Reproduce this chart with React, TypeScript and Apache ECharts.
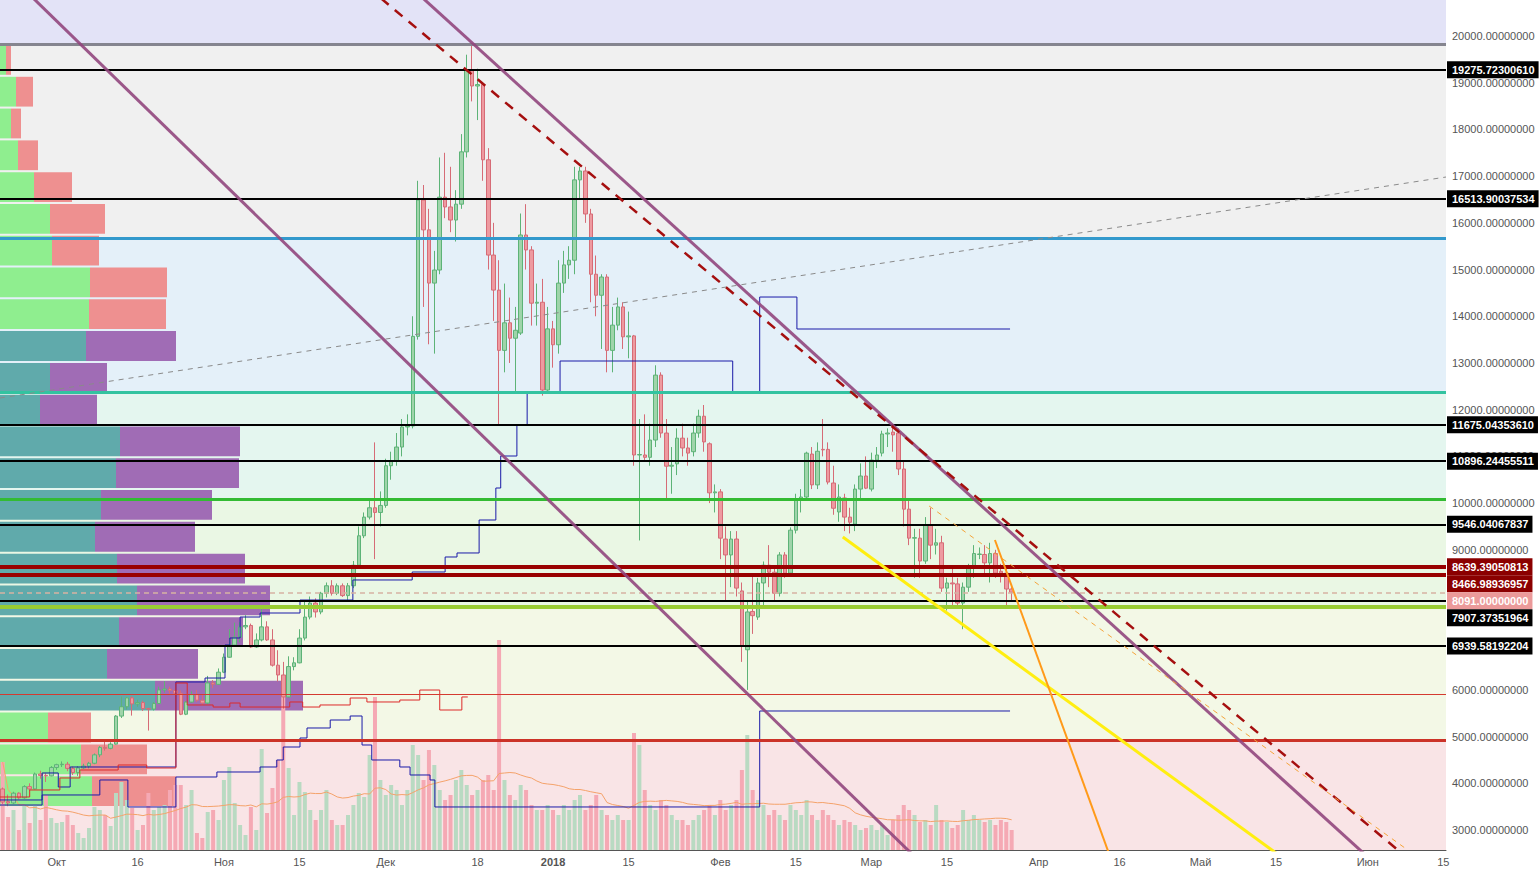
import React, { useEffect, useRef } from 'react';
import * as echarts from 'echarts';

// x values are days counted from 1 Oct 2017 (day 0)
const FIRST_DAY = -10;
const DAY_MIN = -10.5;
const DAY_MAX = 257.5;
const PRICE_MIN = 2573;
const PRICE_MAX = 20771;
const FONT = "'Liberation Sans', Arial, sans-serif";

const priceTicks = [3000, 4000, 5000, 6000, 7000, 8000, 9000, 10000, 11000, 12000, 13000, 14000, 15000, 16000, 17000, 18000, 19000, 20000];
// 7000 and 8000 sit under the price tags in the reference, so they carry no label
const priceTickLabels = [3000, 4000, 5000, 6000, 9000, 10000, 11000, 12000, 13000, 14000, 15000, 16000, 17000, 18000, 19000, 20000];
const dateTickDays = [0, 15, 31, 45, 61, 78, 92, 106, 123, 137, 151, 165, 182, 197, 212, 226, 243, 257];
const dateTickLabels = ['Окт', '16', 'Ноя', '15', 'Дек', '18', '2018', '15', 'Фев', '15', 'Мар', '15', 'Апр', '16', 'Май', '15', 'Июн', '15'];

// daily candles [open, close, low, high], from 21 Sep 2017
const candles = [
  [3880,3600,3560,3910],[3610,3580,3510,3760],[3580,3790,3560,3820],[3790,3690,3660,3810],[3690,3930,3670,3960],
  [3930,3880,3850,4000],[3880,4200,3870,4230],[4200,4170,4100,4270],[4170,4160,4030,4220],[4160,4340,4150,4370],
  [4340,4400,4290,4420],[4400,4410,4350,4470],[4410,4320,4260,4460],[4320,4230,4180,4360],[4230,4330,4160,4370],
  [4330,4370,4310,4420],[4370,4430,4320,4460],[4430,4610,4410,4640],[4610,4770,4560,4800],[4770,4750,4700,4900],
  [4750,4840,4730,4880],[4840,5440,4830,5460],[5440,5640,5400,5860],[5640,5830,5580,5850],[5830,5700,5450,5860],
  [5700,5730,5640,5790],[5730,5600,5550,5770],[5600,5590,5130,5620],[5590,5710,5560,5740],[5710,6000,5700,6070],
  [6000,6020,5940,6190],[6020,5990,5920,6070],[5990,5930,5700,6060],[5930,5480,5460,5990],[5480,5740,5460,5760],
  [5740,5900,5720,5970],[5900,5780,5740,6000],[5780,5720,5680,5900],[5720,6150,5690,6300],[6150,6120,6040,6210],
  [6120,6380,6110,6460],[6380,6700,6360,6780],[6700,6960,6690,7300],[6960,7130,6940,7440],[7130,7350,7020,7450],
  [7350,7380,7300,7600],[7380,6920,6900,7420],[6920,7070,6900,7210],[7070,7350,7040,7780],[7350,7070,7050,7470],
  [7070,6530,6500,7300],[6530,6320,6180,6850],[6320,5850,5600,6600],[5850,6500,5840,6720],[6500,6580,6420,6700],
  [6580,7110,6570,7300],[7110,7560,7060,7900],[7560,7860,7510,8000],[7860,7670,7550,7960],[7670,8070,7620,8100],
  [8070,8230,7980,8300],[8230,8070,8020,8350],[8070,8230,8030,8280],[8230,8020,7990,8280],[8020,8230,7900,8290],
  [8230,8670,8180,8760],[8670,9300,8650,9500],[9300,9700,9250,9800],[9700,9900,9650,10100],[9900,9800,8800,11300],
  [9800,9950,9500,10250],[9950,10800,9900,10950],[10800,10900,10500,11100],[10900,11200,10800,11500],[11200,11630,11000,11800],
  [11630,11650,11450,11900],[11650,13570,11600,14000],[13570,16490,13500,16900],[16490,15850,14200,16810],[15850,14710,13400,16300],
  [14710,14990,13200,15400],[14990,16550,14900,17400],[16550,16340,16100,17500],[16340,16060,15800,17200],[16060,16400,15600,16700],
  [16400,17520,16300,17900],[17520,19270,17400,19600],[19270,18930,18600,19830],[18930,18960,18200,19300],[18960,17350,16900,19000],
  [17350,15310,15000,17600],[15310,14560,13900,16000],[14560,13270,11675,15200],[13270,13860,12800,14700],[13860,13530,13000,14400],
  [13530,13700,12400,14200],[13640,15740,13600,16200],[15740,15420,15000,16400],[15420,14280,13800,15500],[14280,14300,13800,14700],
  [14300,12420,12300,14800],[12420,13730,12400,14200],[13730,13390,12900,13900],[13390,14710,13200,15200],[14710,15100,14500,15400],
  [15100,15200,14800,15500],[15200,16920,14900,17200],[16920,17110,16500,17200],[17110,16190,16000,17200],[16190,14900,14300,16300],
  [14900,14450,14000,15300],[14450,14840,13300,14900],[14840,13270,12800,14900],[13270,13810,12800,14200],[13810,14200,13700,14400],
  [14200,13560,13300,14300],[13560,13580,13100,14100],[13580,11030,10800,13600],[11030,11040,9200,11800],[11030,10980,10900,11900],
  [10980,11350,10800,11700],[11350,12740,11200,12950],[12740,11500,11400,12800],[11500,10790,10100,11800],[10790,10810,10200,11200],
  [10840,11390,10600,11600],[11390,11180,11000,11700],[11180,11070,10800,11400],[11100,11500,11000,11700],[11500,11860,11400,12000],
  [11860,11310,11100,12100],[11270,10220,10000,11300],[10220,10240,9800,10400],[10240,9250,8800,10300],[9230,8890,7900,9500],
  [8890,9230,8200,9400],[9230,8180,8000,9400],[8120,6950,6600,8300],[6860,7670,6000,7900],[7680,7590,7200,8500],
  [7560,8290,7500,8400],[8290,8670,7800,8750],[8670,8520,8200,9100],[8520,8070,7900,8600],[8070,8890,8000,8950],
  [8890,8500,8400,8950],[8500,9420,8500,9480],[9420,10090,9350,10200],[10070,10130,9800,10300],[10130,11070,10100,11100],
  [11050,10390,10300,11200],[10390,11110,10300,11300],[11150,11140,11000,11800],[11150,10450,10400,11300],[10430,9890,9750,10800],
  [9810,10130,9600,10400],[10110,9700,9400,10200],[9700,9590,9350,9900],[9550,10300,9400,10400],[10300,10580,10100,10850],
  [10580,10320,10300,11000],[10300,10920,10250,11080],[10920,11030,10750,11200],[11070,11480,11000,11550],[11480,11500,11200,11600],
  [11520,11460,11100,11675],[11500,10730,10600,11600],[10730,9870,9500,10900],[9870,9250,9100,10100],[9250,9260,8400,9450],
  [9250,8760,8400,9450],[8760,9530,8700,9700],[9530,9100,8800,9900],[9100,9150,8900,9450],[9150,8180,8100,9300],
  [8180,8290,7700,8400],[8290,8270,7800,8600],[8270,7860,7800,8400],[7860,8200,7300,8300],[8200,8610,8100,8700],
  [8610,8920,8400,9100],[8900,8910,8800,9050],[8900,8720,8500,9100],[8720,8920,8300,9150],[8920,8500,8400,9000],
  [8540,8500,8300,8700],[8500,8160,7800,8600],[8160,8091,7900,8200],
];

const volumes = [
  88,33,40,20,45,27,45,30,55,32,
  27,28,35,25,17,12,22,43,40,35,
  24,57,68,50,42,20,25,57,40,43,
  45,60,65,65,45,60,17,12,38,40,
  30,70,83,47,25,15,43,20,101,37,
  62,90,153,82,35,68,58,40,30,40,
  60,30,25,25,35,45,57,53,95,153,
  70,55,65,60,45,60,105,95,70,100,
  85,60,50,55,70,80,65,55,60,70,
  75,60,210,70,55,50,65,60,45,40,
  40,45,40,35,45,40,50,55,40,45,
  55,40,35,30,35,30,30,117,105,60,
  45,40,50,45,35,30,30,25,30,35,
  40,45,35,50,40,45,50,80,115,60,
  50,45,35,40,35,30,45,40,35,50,
  35,30,40,35,30,25,30,28,25,20,
  22,25,20,25,15,30,35,45,40,35,
  28,30,25,45,30,28,22,25,40,30,
  35,30,28,30,25,30,28,20,
];
const VOL_AXIS_MAX = 850;
const VOL_MA_LEN = 20;

// volume profile rows, top row first
const PROFILE_HIGH = 19829;
const PROFILE_LOW = 3494;
const profileUp = [6,16,11,18,34,50,52,90,89,86,50,40,120,116,101,95,117,137,119,107,155,48,81,92];
const profileDown = [5,17,10,20,38,55,47,77,77,90,57,57,120,123,111,100,128,133,124,91,148,43,66,84];
const VALUE_AREA_FIRST = 9;
const VALUE_AREA_LAST = 20;

// background zones
const zoneBounds = [2573, 4928, 7776, 10088, 12378, 15675, 19829, 20771];
const zoneColors = ['#f9e4e6', '#f3f8e6', '#eaf7e4', '#e4f6ef', '#e4f0f9', '#f0f0f0', '#e3e3f7'];

// horizontal levels
const levelValues = [19829, 19275.7230061, 16513.90037534, 15675, 12378, 11675.0435361, 10896.24455511, 10088, 9546.04067837, 8639.39050813, 8466.98936957, 8091, 7907.37351964, 7776, 6939.58192204, 5913, 4928];
const levelColors = ['#85858f', '#000000', '#000000', '#3399cc', '#33c3a0', '#000000', '#000000', '#33bb33', '#000000', '#990000', '#990000', '#d6b3a3', '#000000', '#99cc33', '#000000', '#d43a30', '#cc3328'];
const levelWidths = [3, 2, 2, 3, 3, 2, 2, 3, 2, 4, 4, 1.5, 2, 4, 2, 1, 3];
const levelDashed = [false, false, false, false, false, false, false, false, false, false, false, true, false, false, false, false, false];

// price tags on the right scale
const tagValues = [19275.7230061, 16513.90037534, 11675.0435361, 10896.24455511, 9546.04067837, 8639.39050813, 8466.98936957, 8091, 7907.37351964, 6939.58192204];
const tagColors = ['#000', '#000', '#000', '#000', '#000', '#8b0000', '#8b0000', '#eb9a9a', '#000', '#000'];

// trend lines [day, price]
const channelLineA = [[-10, 21446], [165, 1758]];
const channelLineB = [[60, 21638], [250, 1688]];
const dashedRedLine = [[55, 21301], [255, 1951]];
const grayRisingLine = [[-10.5, 12250], [257.5, 16981]];
const yellowLine = [[145.7, 9274], [232, 2001]];
const orangeLine = [[173.9, 9210], [197, 1873]];
const orangeDashedLine = [[161.7, 9938], [250.4, 2573]];

// step lines [day, level]
const navyUpper = [[-10.5,3644],[-2.7,4222],[0.3,3922],[2.5,4350],[22.1,6170],[27.5,6255],[31.2,6962],[32.1,7112],[34.0,7561],[37.7,7647],[45.1,7925],[54.9,8354],[65.9,8525],[72.0,8846],[74.2,8932],[78.3,9638],[81.4,10323],[82.3,11008],[85.3,11672],[87.2,12378],[93.3,13042],[125.3,12378],[130.3,14412],[137.2,13727],[176.7,13727]];
const navyLower = [[-10.5,3536],[-2.7,3751],[8.0,4072],[13.2,3494],[22.1,4136],[29.7,4243],[37.7,4350],[40.8,4500],[42.0,4778],[45.1,4971],[46.4,5185],[50.7,5356],[54.4,5442],[56.6,4821],[58.4,4500],[63.6,4350],[65.5,4179],[69.2,4072],[70.1,3494],[130.3,5549],[176.7,5549]];
const redStep = [[-10.5,3708],[-5.0,3858],[0.6,4115],[4.3,4286],[11.4,4393],[16.7,4329],[22.1,6148],[24.2,5678],[29.0,5634],[32.1,5720],[34.0,5634],[43.2,5742],[45.6,5634],[48.8,5678],[54.4,5827],[57.5,5742],[63.6,5784],[67.3,5998],[71.0,5570],[75.1,5849],[76.2,5849]];

function lineSeries(data: number[][], color: string, width: number, type: any, z: number, extra: any = {}) {
  return {
    type: 'line', xAxisIndex: 0, yAxisIndex: 0, data, symbol: 'none', silent: true, z,
    clip: true, animation: false,
    lineStyle: { color, width, type },
    ...extra,
  };
}

export default function App() {
  const ref = useRef<HTMLDivElement>(null);
  useEffect(() => {
    if (!ref.current) return;
    const chart = echarts.init(ref.current, undefined, { renderer: 'svg' });

    const candleData = candles.map((c, i) => [FIRST_DAY + i, c[0], c[1], c[2], c[3]]);
    const volData = volumes.map((v, i) => ({
      value: [FIRST_DAY + i, v],
      itemStyle: { color: candles[i][1] >= candles[i][0] ? '#b9dac2' : '#f5a9b4' },
    }));
    const volMa = volumes.map((_, i) => {
      const s = Math.max(0, i - VOL_MA_LEN + 1);
      const win = volumes.slice(s, i + 1);
      return [FIRST_DAY + i, win.reduce((a, b) => a + b, 0) / win.length];
    });
    const bin = (PROFILE_HIGH - PROFILE_LOW) / profileUp.length;

    const markAreaData = zoneColors.map((c, i) => [
      { yAxis: zoneBounds[i], itemStyle: { color: c } },
      { yAxis: zoneBounds[i + 1] },
    ]);
    const markLineData = levelValues.map((v, i) => ({
      yAxis: v,
      lineStyle: { color: levelColors[i], width: levelWidths[i], type: levelDashed[i] ? [5, 4] : 'solid' },
    }));

    const option: any = {
      animation: false,
      backgroundColor: '#ffffff',
      grid: { left: 0, right: 94, top: 0, bottom: 20, containLabel: false },
      xAxis: [
        {
          type: 'value', min: DAY_MIN, max: DAY_MAX, position: 'bottom',
          axisLine: { show: true, onZero: false, lineStyle: { color: '#555', width: 1 } },
          axisTick: { show: false },
          splitLine: { show: false },
          axisLabel: {
            customValues: dateTickDays,
            margin: 6, color: '#555', fontSize: 11, fontFamily: FONT,
            formatter: (v: number) => {
              const t = dateTickLabels[dateTickDays.indexOf(v)] || '';
              return t === '2018' ? '{b|2018}' : t;
            },
            rich: { b: { fontWeight: 'bold', color: '#555', fontSize: 11, fontFamily: FONT } },
          },
        },
        { type: 'value', min: 0, max: 1446, show: false, gridIndex: 0 },
      ],
      yAxis: [
        {
          type: 'value', min: PRICE_MIN, max: PRICE_MAX, position: 'right',
          axisLine: { show: true, lineStyle: { color: '#555', width: 1 } },
          axisTick: { show: true, length: 4, customValues: priceTicks, lineStyle: { color: '#555' } },
          splitLine: { show: false },
          axisLabel: {
            customValues: priceTickLabels, margin: 6, color: '#555', fontSize: 11, fontFamily: FONT,
            formatter: (v: number) => v.toFixed(8),
          },
        },
        { type: 'value', min: 0, max: VOL_AXIS_MAX, show: false, gridIndex: 0 },
      ],
      series: [
        {
          type: 'bar', name: 'volume', xAxisIndex: 0, yAxisIndex: 1, data: volData,
          barWidth: 4, z: 2, silent: true,
        },
        {
          type: 'line', xAxisIndex: 0, yAxisIndex: 1, data: volMa, symbol: 'none', silent: true, z: 2,
          lineStyle: { color: '#f4a26a', width: 1 },
        },
        {
          type: 'custom', xAxisIndex: 1, yAxisIndex: 0, z: 2, silent: true,
          data: profileUp.map((u, i) => [u, i]),
          renderItem: (params: any, api: any) => {
            const i = params.dataIndex;
            const hi = PROFILE_HIGH - i * bin;
            const lo = hi - bin;
            const a = api.coord([0, hi]);
            const b = api.coord([0, lo]);
            const x1 = api.coord([profileUp[i], hi])[0];
            const x2 = api.coord([profileUp[i] + profileDown[i], hi])[0];
            const va = i >= VALUE_AREA_FIRST && i <= VALUE_AREA_LAST;
            const y = a[1] + 1;
            const h = b[1] - a[1] - 2;
            return {
              type: 'group',
              children: [
                { type: 'rect', shape: { x: a[0], y, width: x1 - a[0], height: h }, style: { fill: va ? '#60aaab' : '#8fee8f' } },
                { type: 'rect', shape: { x: x1, y, width: x2 - x1, height: h }, style: { fill: va ? '#a06cb5' : '#ee9090' } },
              ],
            };
          },
        },
        {
          type: 'candlestick', name: 'BTC', xAxisIndex: 0, yAxisIndex: 0, data: candleData,
          encode: { x: 0, y: [1, 2, 3, 4] },
          barWidth: 4, z: 3, silent: true,
          itemStyle: { color: '#9fd4aa', color0: '#ee9aa0', borderColor: '#5db377', borderColor0: '#d66b76', borderWidth: 1 },
          markArea: { silent: true, label: { show: false }, data: markAreaData },
          markLine: { silent: true, symbol: ['none', 'none'], label: { show: false }, data: markLineData },
        },
        lineSeries(navyUpper, '#1a1aa8', 1, 'solid', 4, { step: 'end' }),
        lineSeries(navyLower, '#1a1aa8', 1, 'solid', 4, { step: 'end' }),
        lineSeries(redStep, '#dd2a2a', 1, 'solid', 4, { step: 'end' }),
        lineSeries(grayRisingLine, '#8a8a8a', 1, [5, 5], 6),
        lineSeries(channelLineA, 'rgba(145,70,125,0.9)', 3, 'solid', 6),
        lineSeries(channelLineB, 'rgba(145,70,125,0.9)', 3, 'solid', 6),
        lineSeries(dashedRedLine, '#a50f0f', 2.5, [10, 8], 7),
        lineSeries(orangeDashedLine, '#f5a43a', 1, [5, 5], 7),
        lineSeries(yellowLine, '#ffee11', 3, 'solid', 7),
        lineSeries(orangeLine, '#ff9a1a', 2, 'solid', 7),
      ],
    };
    chart.setOption(option);

    const xr = chart.convertToPixel({ xAxisIndex: 0 }, DAY_MAX) as number;
    const items = tagValues.map((v, i) => ({ i, y: chart.convertToPixel({ yAxisIndex: 0 }, v) as number }));
    items.sort((p, q) => p.y - q.y);
    let prev = -Infinity;
    for (const it of items) {
      if (it.y < prev + 17) it.y = prev + 17;
      prev = it.y;
    }
    chart.setOption({
      graphic: items.map((it) => ({
        type: 'text', x: xr + 1, y: it.y, z: 100, silent: true,
        style: {
          text: tagValues[it.i].toFixed(8), fill: '#ffffff', backgroundColor: tagColors[it.i],
          padding: [2, 4, 2, 5], lineHeight: 13, font: `bold 11px ${FONT}`, verticalAlign: 'middle', align: 'left',
        },
      })),
    });

    return () => chart.dispose();
  }, []);
  return <div ref={ref} style={{ position: 'fixed', left: 0, top: 0, width: 1540, height: 870 }} />;
}
